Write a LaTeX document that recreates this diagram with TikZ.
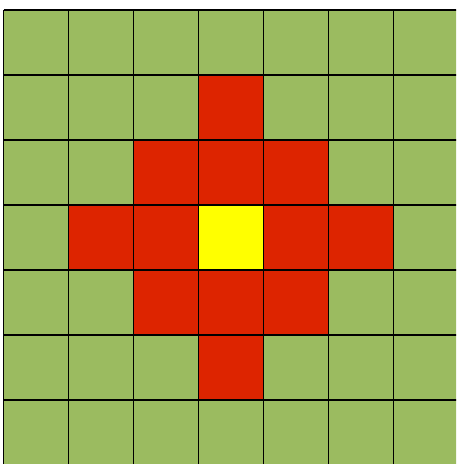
\documentclass[tikz,border=0pt]{standalone}
\definecolor{cgreen}{RGB}{155,187,96}
\definecolor{cred}{RGB}{221,36,0}
\definecolor{cyel}{RGB}{255,255,0}
\tikzset{cell/.style={draw=black,line width=1.1pt}}
\begin{document}
\begin{tikzpicture}[x=1pt,y=-1pt]
\useasboundingbox (0,0) rectangle (456,464);
\clip (0,0) rectangle (456,464);
\foreach \r in {0,...,6}{
  \foreach \c in {0,...,6}{
    \pgfmathtruncatemacro{\d}{abs(\r-3)+abs(\c-3)}
    \ifnum\d=0
      \def\fc{cyel}
    \else\ifnum\d<3
      \def\fc{cred}
    \else
      \def\fc{cgreen}
    \fi\fi
    \fill[\fc] (3.5+65*\c,10+65*\r) rectangle ++(65,65);
  }
}
\foreach \r in {0,...,7}{
  \draw[cell] (3.5,10+65*\r) -- (470,10+65*\r);
}
\foreach \c in {0,...,7}{
  \draw[cell] (3.5+65*\c,10) -- (3.5+65*\c,470);
}
\end{tikzpicture}
\end{document}
